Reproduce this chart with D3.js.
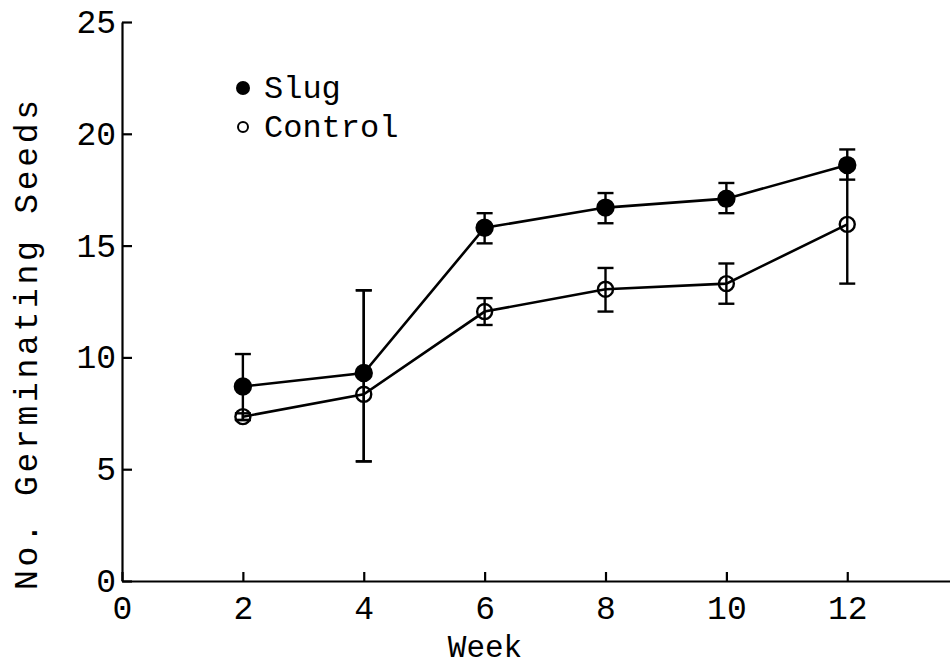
<!DOCTYPE html>
<html>
<head>
<meta charset="utf-8">
<script src="https://cdn.jsdelivr.net/npm/d3@7"></script>
<style>
  body { margin: 0; background: #fff; }
  svg text { font-family: "Liberation Mono", "DejaVu Sans Mono", monospace; fill: #000; }
</style>
</head>
<body>
<svg id="chart" width="950" height="669"></svg>
<script>
// Data
const weeks = [2, 4, 6, 8, 10, 12];
const slugMean = [8.7, 9.3, 15.8, 16.7, 17.1, 18.6];
const slugLow = [7.2, 5.35, 15.1, 16.0, 16.45, 17.95];
const slugHigh = [10.15, 13.0, 16.45, 17.35, 17.8, 19.3];
const controlMean = [7.35, 8.35, 12.05, 13.05, 13.3, 15.95];
const controlLow = [7.2, 5.35, 11.45, 12.05, 12.4, 13.3];
const controlHigh = [7.5, 13.0, 12.65, 14.0, 14.2, 18.6];
const xTicks = [0, 2, 4, 6, 8, 10, 12];
const yTicks = [0, 5, 10, 15, 20, 25];

const svg = d3.select("#chart");

const x = d3.scaleLinear().domain([0, 13.7]).range([122, 950]);
const y = d3.scaleLinear().domain([0, 25]).range([581, 22]);

// Axes, ticks pointing inward
const xAxis = svg.append("g")
    .attr("transform", `translate(0,${y(0)})`)
    .call(d3.axisBottom(x).tickValues(xTicks).tickSizeInner(-9).tickSizeOuter(0).tickPadding(15));
const yAxis = svg.append("g")
    .attr("transform", `translate(${x(0)},0)`)
    .call(d3.axisLeft(y).tickValues(yTicks).tickSizeInner(-10).tickSizeOuter(0).tickPadding(6));

[xAxis, yAxis].forEach(a => {
    a.select(".domain").attr("stroke", "#000").attr("stroke-width", 2.2);
    a.selectAll(".tick line").attr("stroke", "#000").attr("stroke-width", 2.2);
    a.selectAll(".tick text").style("font-size", "33px").attr("fill", "#000");
});
xAxis.selectAll(".tick text").attr("dy", "0.71em");

// Axis titles
svg.append("text")
   .attr("x", 485).attr("y", 657)
   .attr("text-anchor", "middle")
   .style("font-size", "31px")
   .text("Week");

svg.append("text")
   .attr("transform", `translate(37,${345}) rotate(-90)`)
   .attr("text-anchor", "middle")
   .style("font-size", "33px")
   .attr("textLength", 490)
   .text("No. Germinating Seeds");

const line = d3.line().x(d => x(d.w)).y(d => y(d.m));

function drawSeries(mean, low, high, filled, r) {
    const pts = weeks.map((w, i) => ({w: w, m: mean[i], lo: low[i], hi: high[i]}));
    const g = svg.append("g");

    g.append("path")
     .datum(pts)
     .attr("d", line)
     .attr("fill", "none")
     .attr("stroke", "#000")
     .attr("stroke-width", 2.6);

    const eb = g.selectAll(".err").data(pts).enter().append("g");
    eb.append("line")
      .attr("x1", d => x(d.w)).attr("x2", d => x(d.w))
      .attr("y1", d => y(d.lo)).attr("y2", d => y(d.hi))
      .attr("stroke", "#000").attr("stroke-width", 2.4);
    eb.append("line")
      .attr("x1", d => x(d.w) - 8).attr("x2", d => x(d.w) + 8)
      .attr("y1", d => y(d.hi)).attr("y2", d => y(d.hi))
      .attr("stroke", "#000").attr("stroke-width", 2.4);
    eb.append("line")
      .attr("x1", d => x(d.w) - 8).attr("x2", d => x(d.w) + 8)
      .attr("y1", d => y(d.lo)).attr("y2", d => y(d.lo))
      .attr("stroke", "#000").attr("stroke-width", 2.4);

    g.selectAll("circle").data(pts).enter().append("circle")
     .attr("cx", d => x(d.w))
     .attr("cy", d => y(d.m))
     .attr("r", r)
     .attr("fill", filled ? "#000" : "none")
     .attr("stroke", "#000")
     .attr("stroke-width", 2.4);
}

drawSeries(controlMean, controlLow, controlHigh, false, 7.5);
drawSeries(slugMean, slugLow, slugHigh, true, 8);

// Legend
const legend = svg.append("g");
legend.append("circle").attr("cx", 243).attr("cy", 88).attr("r", 7).attr("fill", "#000");
legend.append("text").attr("x", 264).attr("y", 98).style("font-size", "32px").text("Slug");
legend.append("circle").attr("cx", 243).attr("cy", 127).attr("r", 5)
      .attr("fill", "none").attr("stroke", "#000").attr("stroke-width", 2);
legend.append("text").attr("x", 264).attr("y", 137).style("font-size", "32px").text("Control");
</script>
</body>
</html>
